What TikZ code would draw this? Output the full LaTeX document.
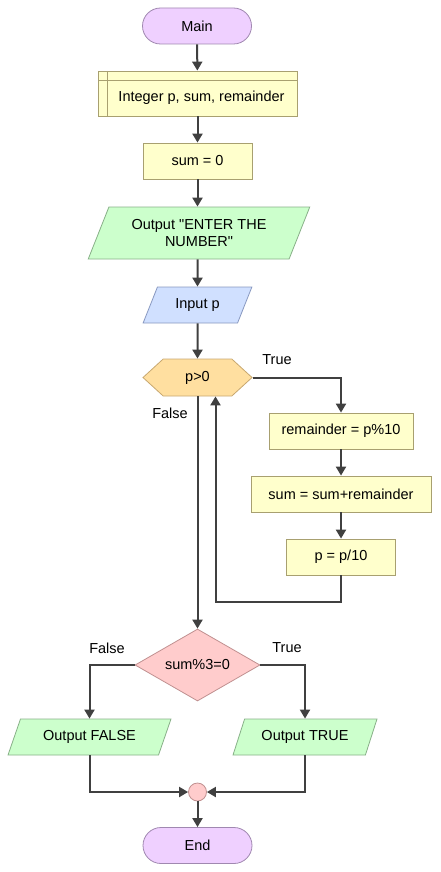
\documentclass[tikz,border=0pt]{standalone}
\usepackage{fontspec}
\setmainfont{Liberation Sans}
\usetikzlibrary{shapes.geometric,shapes.symbols,arrows.meta,positioning}

\definecolor{termfill}{HTML}{EFD0FF}
\definecolor{termline}{HTML}{A088B0}
\definecolor{procfill}{HTML}{FFFFCC}
\definecolor{procline}{HTML}{A8A070}
\definecolor{outfill}{HTML}{CCFFCC}
\definecolor{outline}{HTML}{88B088}
\definecolor{infill}{HTML}{D0E0FF}
\definecolor{inline}{HTML}{8898C0}
\definecolor{loopfill}{HTML}{FFDFA0}
\definecolor{loopline}{HTML}{C8A870}
\definecolor{iffill}{HTML}{FFCCCC}
\definecolor{ifline}{HTML}{C09090}
\definecolor{arrowcol}{HTML}{404040}

\begin{document}
\begin{tikzpicture}[
    x=1pt, y=-1pt,
    font=\fontsize{14.5}{17}\selectfont,
    base/.style = {draw, line width=0.8pt, minimum height=36pt, inner sep=2pt, align=center},
    terminal/.style = {base, rectangle, rounded corners=18pt, fill=termfill, draw=termline, minimum width=109pt},
    process/.style = {base, rectangle, fill=procfill, draw=procline},
    declare/.style = {process, path picture={
        \draw[procline, line width=0.8pt] ([xshift=9pt]path picture bounding box.north west) -- ([xshift=9pt]path picture bounding box.south west);
        \draw[procline, line width=0.8pt] ([yshift=-9pt]path picture bounding box.north west) -- ([yshift=-9pt]path picture bounding box.north east);}},
    inout/.style = {base, trapezium, trapezium left angle=63, trapezium right angle=117, trapezium stretches=true},
    output/.style = {inout, fill=outfill, draw=outline},
    input/.style = {inout, fill=infill, draw=inline},
    loop/.style = {base, signal, signal to=west and east, signal pointer angle=85, fill=loopfill, draw=loopline, minimum width=109pt, minimum height=37pt},
    decision/.style = {base, diamond, aspect=1.74, inner sep=0pt, fill=iffill, draw=ifline, minimum width=125pt, minimum height=72pt},
    joint/.style = {draw=ifline, fill=iffill, line width=0.8pt, circle, minimum size=18pt, inner sep=0pt},
    arrow/.style = {-{Triangle[width=10pt,length=9pt]}, line width=2pt, draw=arrowcol}
]
    \useasboundingbox (0,0) rectangle (440,872);

    % Start and declarations
    \node[terminal] (main) at (197,26) {Main};
    \node[declare, minimum width=199pt, minimum height=45pt] (decl) at (197.5,93.5) {\hspace*{8pt}\raisebox{-4.5pt}[\height][\depth]{Integer p, sum, remainder}};
    \node[process, minimum width=109pt] (init) at (197.5,161) {sum = 0};
    \node[output, minimum width=222pt, minimum height=52pt] (prompt) at (199,233) {Output \textquotedbl ENTER THE\\NUMBER\textquotedbl};
    \node[input, minimum width=109pt] (read) at (197.5,305) {Input p};

    % While loop
    \node[loop] (ifp) at (197.5,377.5) {p>0};
    \node[process, minimum width=144pt] (rem) at (341,431) {remainder = p\%10};
    \node[process, minimum width=180pt] (add) at (341,494) {sum = sum+remainder};
    \node[process, minimum width=109pt] (pdiv) at (341,557) {p = p/10};

    % Check
    \node[decision] (chk) at (197.5,665) {sum\%3=0};
    \node[output, minimum width=163pt] (outf) at (89.5,737) {Output FALSE};
    \node[output, minimum width=144pt] (outt) at (305,737) {Output TRUE};
    \node[joint] (join) at (197.5,792) {};
    \node[terminal] (end) at (197.5,845.5) {End};

    % Arrows
    \draw[arrow] (main) -- (decl);
    \draw[arrow] (decl) -- (init);
    \draw[arrow] (init) -- (prompt.north -| init);
    \draw[arrow] (prompt.south -| init) -- (read);
    \draw[arrow] (read) -- (ifp);
    \draw[arrow] (ifp.east) -| (rem.north);
    \draw[arrow] (rem) -- (add);
    \draw[arrow] (add) -- (pdiv);
    \draw[arrow] (pdiv.south) -- ++(0,27) -| ([xshift=18pt]ifp.south);
    \draw[arrow] (ifp.south) -- (chk.north);
    \draw[arrow] (chk.west) -| (outf.north);
    \draw[arrow] (chk.east) -| (outt.north);
    \draw[arrow] (outf.south) |- (join.west);
    \draw[arrow] (outt.south) |- (join.east);
    \draw[arrow] (join) -- (end);

    % Labels
    \node at (277,360) {True};
    \node at (170,413) {False};
    \node at (107,648) {False};
    \node at (287,648) {True};

\end{tikzpicture}
\end{document}
